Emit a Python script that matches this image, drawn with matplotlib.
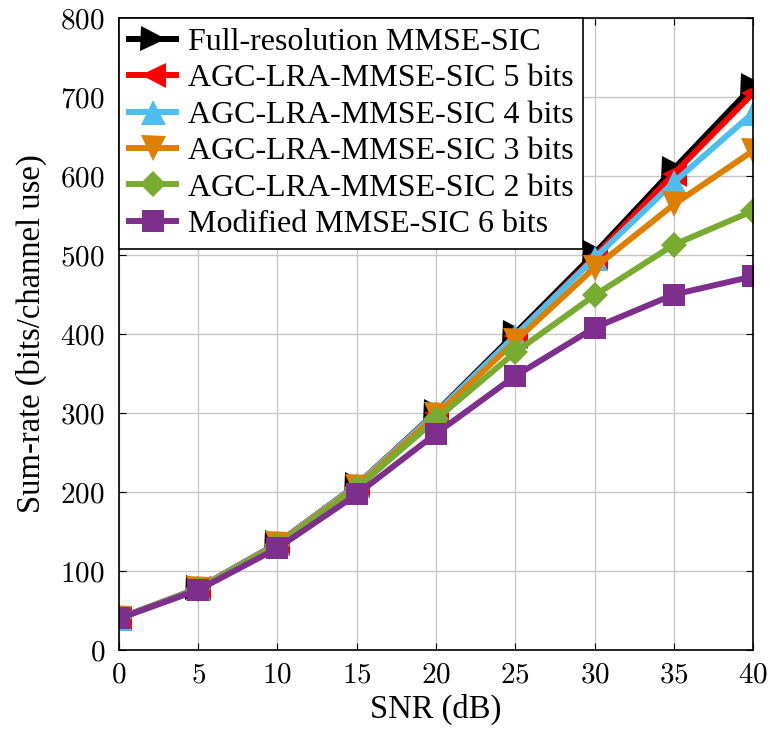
import matplotlib.pyplot as plt
from matplotlib.ticker import FuncFormatter

plt.rcParams['font.family'] = ['Liberation Serif', 'DejaVu Serif']
plt.rcParams['mathtext.fontset'] = 'cm'

snr = [0, 5, 10, 15, 20, 25, 30, 35, 40]
full_res = [40, 78, 135, 209, 301, 401, 502, 609, 714]
agc5 = [40, 78, 135, 209, 300, 398, 498, 603, 705]
agc4 = [40, 78, 135, 209, 300, 398, 496, 592, 680]
agc3 = [40, 77, 134, 207, 297, 391, 484, 564, 632]
agc2 = [40, 77, 133, 205, 292, 377, 449, 513, 556]
mod6 = [40, 76, 129, 197, 274, 347, 408, 450, 473]

labels = ["Full-resolution MMSE-SIC",
          "AGC-LRA-MMSE-SIC 5 bits",
          "AGC-LRA-MMSE-SIC 4 bits",
          "AGC-LRA-MMSE-SIC 3 bits",
          "AGC-LRA-MMSE-SIC 2 bits",
          "Modified MMSE-SIC 6 bits"]
series = [full_res, agc5, agc4, agc3, agc2, mod6]
colors = ["black", "#ff0000", "#4dbeee", "#df7f00", "#77ac30", "#7e2f8e"]
markers = [">", "<", "^", "v", "D", "s"]
msizes = [18, 18, 18, 18, 13, 16]

fig = plt.figure(figsize=(7.7, 7.34), dpi=100)
ax = fig.add_axes([0.1545, 0.1144, 0.8235, 0.861])

for y, lab, c, m, ms in zip(series, labels, colors, markers, msizes):
    ax.plot(snr, y, color=c, marker=m, markersize=ms, linewidth=4.3,
            markeredgewidth=0, label=lab)

ax.set_xlim(0, 40)
ax.set_ylim(0, 800)
ax.set_xticks(range(0, 41, 5))
ax.set_yticks(range(0, 801, 100))
fmt = FuncFormatter(lambda v, p: "$%d$" % v)
ax.xaxis.set_major_formatter(fmt)
ax.yaxis.set_major_formatter(fmt)
ax.tick_params(direction='in', top=True, right=True, labelsize=21, length=5)
ax.tick_params(axis='x', pad=9)
ax.tick_params(axis='y', pad=10)
ax.grid(True, color='#c8c8c8', linewidth=1)
ax.set_axisbelow(True)
for s in ax.spines.values():
    s.set_linewidth(1.2)

ax.set_xlabel("SNR (dB)", fontsize=23.5, labelpad=4)
ax.set_ylabel("Sum-rate (bits/channel use)", fontsize=23.5, labelpad=10)

leg = ax.legend(loc='upper left', bbox_to_anchor=(0, 1), borderaxespad=0,
                fontsize=23, fancybox=False, edgecolor='black', framealpha=1,
                handlelength=1.5, labelspacing=0.22, handletextpad=0.35,
                borderpad=0.3)
leg.get_frame().set_linewidth(1.2)

plt.savefig("out.png")
